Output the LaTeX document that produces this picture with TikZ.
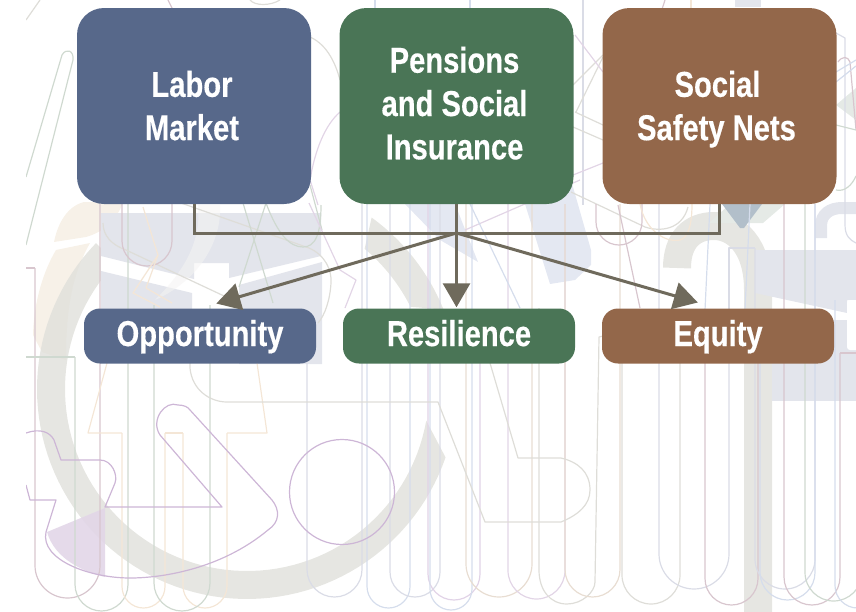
\documentclass[tikz,border=0pt]{standalone}
\usepackage{fontspec}
\setmainfont{Liberation Sans}[FakeStretch=0.81,FakeBold=0.35]
\usetikzlibrary{arrows.meta}
\definecolor{cblue}{HTML}{57688A}
\definecolor{cgreen}{HTML}{4A7556}
\definecolor{cbrown}{HTML}{93674A}
\definecolor{clink}{HTML}{6F6A5C}
\definecolor{bgring}{HTML}{E0E0DB}
\definecolor{bgslate}{HTML}{E3E5EC}
\definecolor{bgpeach}{HTML}{F7F1E8}
\definecolor{bgblue}{HTML}{E4E8F2}
\definecolor{bgsage}{HTML}{E5EAE6}
\definecolor{bgsteel}{HTML}{B2BFCA}
\definecolor{bgpurple}{HTML}{E2D6E8}
\definecolor{lgray}{HTML}{DEDDD8}
\definecolor{lmauve}{HTML}{D8C6CE}
\definecolor{lsage}{HTML}{CFD9D0}
\definecolor{lpeach}{HTML}{F4E6D6}
\definecolor{lblue}{HTML}{D5DDEC}
\definecolor{lpurple}{HTML}{CDB6D6}
\definecolor{lpale}{HTML}{E2D5E6}
\definecolor{lslate}{HTML}{DADCE6}
\definecolor{ltan}{HTML}{E8DDD2}
\newcommand{\ushp}[6]{% colour, xL, xR, topL, topR, bottom
  \pgfmathsetmacro{\ur}{(#3-#2)/2}
  \pgfmathsetmacro{\uy}{#6-\ur}
  \pgfmathsetmacro{\uc}{#6-0.45*\ur}
  \pgfmathsetmacro{\ua}{#2+0.45*\ur}
  \pgfmathsetmacro{\ub}{#3-0.45*\ur}
  \pgfmathsetmacro{\um}{(#2+#3)/2}
  \draw[thin line,#1] (#2,#4) -- (#2,\uy) .. controls (#2,\uc) and (\ua,#6) .. (\um,#6)
     .. controls (\ub,#6) and (#3,\uc) .. (#3,\uy) -- (#3,#5);
}
\newcommand{\txtline}[1]{\smash{#1}\rule[-1pt]{0pt}{27pt}\kern4pt}
\tikzset{
  thin line/.style={line width=1.2pt,line join=round},
  bigbox/.style={rounded corners=27pt,minimum width=234pt,minimum height=196pt,inner sep=0pt,
    text=white,align=center,font=\fontsize{36}{43.3}\selectfont\bfseries},
  smallbox/.style={rounded corners=16pt,minimum width=232pt,minimum height=55pt,inner sep=0pt,
    text=white,align=center,text height=25pt,text depth=5pt,font=\fontsize{36}{43.3}\selectfont\bfseries},
  link/.style={draw=clink,line width=3pt},
  tip/.style={-{Triangle[length=24pt,width=27pt]},shorten >=#1},
}
\begin{document}
\begin{tikzpicture}[x=1pt,y=-1pt]
\useasboundingbox (0,0) rectangle (856,611);
\begin{scope}
\clip (26,0) rectangle (856,611);
% filled background art
\fill[bgpeach] (54,242) .. controls (58,222) and (68,206) .. (84,202) -- (123,203) .. controls (116,220) and (104,232) .. (86,237) -- cycle;
\fill[bgpeach] (56,250) -- (90,243) .. controls (75,270) and (66,300) .. (66,360) -- (42,352) -- (33,335) .. controls (34,300) and (44,270) .. (56,250) -- cycle;
% grey ring pieces and arch, under the slate blocks
\fill[bgring,fill opacity=0.8] plot[domain=-19:-224,samples=80] ({247+210*cos(\x)},{389-210*sin(\x)})
  -- plot[domain=-224:-10,samples=80] ({247+182*cos(\x)},{389-182*sin(\x)}) -- cycle;
\fill[bgring,fill opacity=0.8] plot[domain=54:22,samples=24] ({247+212*cos(\x)},{389-212*sin(\x)})
  -- plot[domain=26.7:50,samples=24] ({247+183*cos(\x)},{389-183*sin(\x)}) -- cycle;
\draw[bgring,draw opacity=0.8,line width=28pt] (758,612) -- (758,290) .. controls (758,245) and (735,226) .. (714,226) .. controls (692,226) and (677,240) .. (677,268);
% white band and notch across the left slate block
\fill[white] (101,240) rectangle (322,310);
\fill[bgslate] (101,213) -- (321,213) -- (321,256) -- (229,278) -- (229,263) -- (194,263) -- (194,279) -- (101,256) -- cycle;
\fill[bgslate] (101,271) -- (192,293) -- (192,310) -- (101,310) -- cycle;
\fill[bgslate] (239,285) -- (322,262) -- (322,364) -- (239,364) -- cycle;
\fill[bgpeach!80!black!18!white,fill opacity=0.55] (198,205) -- (220,205) .. controls (222,240) and (200,280) .. (155,300) .. controls (180,275) and (202,245) .. (198,205) -- cycle;
\fill[bgblue] (405,204) -- (455,204) -- (478,262) -- (440,240) -- cycle;
\fill[bgblue] (525,204) -- (571,180) -- (591,250) -- (591,265) -- (575,280) -- (550,284) -- cycle;
\fill[bgslate] (735,0) rectangle (761,7);
\fill[bgslate] (755,250) -- (856,250) -- (856,300) -- (847,300) -- (847,313) -- (755,293) -- cycle;
\fill[bgslate] (772,320) -- (856,320) -- (856,401) -- (772,401) -- cycle;
\fill[white,rounded corners=3pt] (847,300) rectangle (860,350);
\fill[bgsage] (709,223) -- (730,204) -- (785,204) -- (763,223) -- cycle;
\fill[bgsteel] (722,204) -- (762,204) -- (744,228) -- (740,228) -- cycle;
\fill[bgsage] (836,105) -- (856,88) -- (856,120) -- cycle;
\draw[bgslate,line width=12pt] (821,238) -- (821,226) .. controls (821,214) and (830,208) .. (842,208) -- (860,208);
\fill[bgpurple,fill opacity=0.9] (47,532) -- (105,508) -- (105,577) .. controls (85,572) and (55,560) .. (47,532) -- cycle;
% thin U-shaped lines
\ushp{lmauve}{35}{100}{268}{204}{598}
\draw[thin line,lmauve] (26,268) -- (35,268);
\ushp{lsage}{75}{128}{357}{200}{611}
\draw[thin line,lsage] (26,357) -- (75,357);
\ushp{lpeach}{122}{165}{433}{433}{608}
\ushp{lpeach}{183}{227}{433}{433}{608}
\draw[thin line,lpeach] (122,433) -- (88,433) -- (107,363) -- (115,330);
\draw[thin line,lpeach] (165,433) -- (183,433);
\draw[thin line,lpeach] (227,433) -- (267,433) -- (257,363);
\ushp{lsage}{154}{210}{305}{305}{611}
\ushp{lslate}{307}{362}{363}{204}{597}
\ushp{lblue}{367}{410}{204}{204}{608}
\ushp{lslate}{390}{440}{204}{204}{597}
\ushp{lpurple!60}{428}{480}{204}{363}{600}
\ushp{lblue}{430}{472}{204}{204}{610}
\ushp{ltan}{466}{532}{204}{204}{597}
\ushp{lpale}{508}{565}{204}{204}{599}
\draw[thin line,lgray] (539,308) -- (539,570) .. controls (539,590) and (550,604) .. (567,604) .. controls (582,604) and (595,592) .. (595,582) -- (599,337) -- (603,336);
\ushp{ltan}{565}{620}{204}{204}{597}
\ushp{lgray}{622}{680}{363}{363}{604}
\ushp{lslate}{659}{729}{204}{363}{589}
\ushp{lmauve}{705}{758}{363}{363}{605}
\ushp{lslate}{755}{815}{248}{204}{589}
\ushp{lblue}{760}{815}{363}{204}{600}
\ushp{lmauve}{784}{840}{204}{353}{605}
\draw[thin line,lmauve] (840,353) -- (856,353);
\ushp{lsage}{805}{862}{190}{190}{601}
\ushp{lblue}{835}{880}{300}{300}{608}
\draw[thin line,lslate] (729,363) -- (729,248) -- (755,248);
% purple outline and circle
\draw[thin line,lpurple] (26,433) .. controls (40,428) and (50,432) .. (54,440) -- (61,460) -- (100,460)
  .. controls (112,460) and (118,475) .. (115,483) -- (105,507) -- (222,507) -- (160,435)
  .. controls (150,420) and (165,400) .. (178,405) .. controls (184,405) and (188,407) .. (190,410) -- (272,500)
  .. controls (280,510) and (280,522) .. (268,530) .. controls (220,570) and (160,578) .. (130,578)
  .. controls (90,578) and (40,560) .. (46,532) -- (56,500) -- (30,500) -- (26,485);
\draw[thin line,lpurple] (342,492) circle[radius=52.5];
% grey outline in the lower middle
\draw[thin line,lgray] (190,363) -- (190,368) .. controls (192,390) and (210,402) .. (227,402) -- (438,402)
  -- (485,522) -- (561,522) .. controls (578,515) and (590,505) .. (590,490) .. controls (590,472) and (578,462) .. (561,458)
  -- (518,458) -- (490,363) -- (475,310);
% upper art lines
\draw[thin line,lsage] (26,177) -- (62,55) .. controls (66,48) and (74,50) .. (73,60) -- (26,245);
\draw[thin line,lgray] (26,20) -- (40,0);
\draw[thin line,lgray] (310,37) .. controls (328,45) and (336,65) .. (340,80);
\draw[thin line,lpale] (340,112) .. controls (325,125) and (315,150) .. (310,180) -- (318,205);
\draw[thin line,lsage] (310,185) -- (322,230);
\draw[thin line,lgray] (181,203) -- (309,248) .. controls (325,255) and (332,270) .. (331,283) .. controls (330,300) and (325,315) .. (318,323);
\draw[thin line,lgray] (103,223) .. controls (103,236) and (112,245) .. (126,250) -- (239,303);
\ushp{lmauve}{122}{172}{204}{204}{266}
\draw[thin line,lsage] (243,203) -- (273,303);
\draw[thin line,lsage] (266,203) -- (239,287);
\draw[thin line,lsage] (266,203) .. controls (278,235) and (290,247) .. (303,247) .. controls (315,247) and (321,235) .. (321,205);
\draw[thin line,lpeach] (143,207) -- (158,255) -- (146,288) -- (172,303);
\draw[thin line,lpeach] (158,255) -- (133,293) -- (160,307);
\draw[thin line,lpale] (309,203) -- (340,270) -- (356,280) -- (345,308);
\draw[thin line,lmauve] (168,0) -- (172,8);
\draw[thin line,lgray] (250,0) .. controls (255,6) and (270,6) .. (280,0);
\draw[thin line,lblue] (375,0) -- (375,8);
% lines in the gaps on the right
\draw[thin line,lslate] (583,0) -- (583,205);
\draw[thin line,lgray] (575,112) -- (603,125);
\draw[thin line,lgray] (573,127) -- (603,140);
\draw[thin line,lgray] (576,112) -- (603,57);
\draw[thin line,lgray] (573,85) -- (603,55);
\draw[thin line,lpale] (575,35) -- (603,72);
\draw[thin line,lpale] (573,175) -- (603,163);
\draw[thin line,lgray] (571,192) -- (645,227) .. controls (660,232) and (682,230) .. (688,207);
\draw[thin line,lpale] (465,230) -- (580,180);
\draw[thin line,lblue] (470,204) -- (520,308);
\ushp{lmauve}{596}{642}{204}{204}{245}
\draw[thin line,lpeach] (640,204) .. controls (645,230) and (665,243) .. (680,240) .. controls (688,238) and (692,225) .. (692,204);
\draw[thin line,lmauve] (618,205) -- (640,308);
\draw[thin line,lblue] (710,204) -- (705,310);
\draw[thin line,lblue] (750,204) -- (745,310);
\draw[thin line,lslate] (836,33) -- (845,38) -- (845,225) .. controls (845,236) and (850,240) .. (856,243);
\draw[thin line,lmauve] (838,62) .. controls (842,56) and (848,56) .. (850,62) -- (856,130);
\draw[thin line,lsage] (836,125) -- (856,130);
\draw[thin line,lsage] (836,190) .. controls (845,192) and (852,185) .. (856,176);
\draw[thin line,lblue] (836,72) -- (856,60);
\draw[thin line,lblue] (836,82) -- (856,66);
\draw[thin line,lmauve] (665,0) -- (657,25);
\draw[thin line,lpeach] (691,0) -- (691,8);
\draw[thin line,lblue] (470,0) -- (470,8);
\end{scope}
% boxes
\node[bigbox,fill=cblue] (labor) at (194,106) {\txtline{Labor}\\\txtline{Market}};
\node[bigbox,fill=cgreen] (pensions) at (456.5,106) {\txtline{Pensions}\\\txtline{and Social}\\\smash{Insurance}\rule[-6pt]{0pt}{31pt}\kern4pt};
\node[bigbox,fill=cbrown] (nets) at (719.5,106) {\txtline{Social}\\\smash{Safety Nets}\rule[-1pt]{0pt}{27pt}\kern6pt};
\node[smallbox,fill=cblue] (opp) at (200,336) {Opportunity};
\node[smallbox,fill=cgreen] (res) at (459,336) {Resilience};
\node[smallbox,fill=cbrown] (eq) at (718,336) {Equity};
\coordinate (hub) at (456.5,233);
% connectors
\draw[link] (labor.south) |- (hub);
\draw[link] (nets.south) |- (hub);
\draw[link,tip=1pt] (pensions.south) -- (hub |- res.north);
\draw[link,tip=17pt] (hub) -- (opp.north);
\draw[link,tip=21pt] (hub) -- (eq.north);
\end{tikzpicture}
\end{document}
